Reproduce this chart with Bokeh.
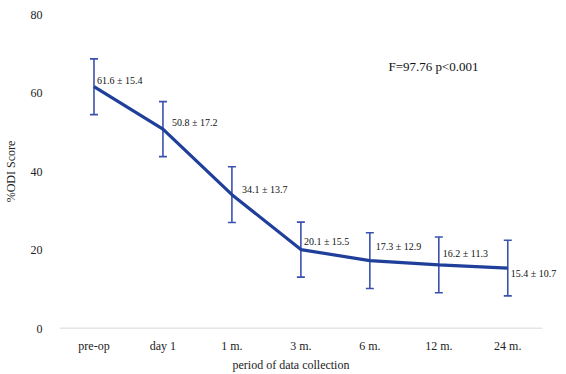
from bokeh.plotting import figure
from bokeh.models import ColumnDataSource, Whisker, TeeHead, Label, LabelSet, FixedTicker, Range1d, Title
from bokeh.embed import file_html
from bokeh.resources import INLINE

periods = ["pre-op", "day 1", "1 m.", "3 m.", "6 m.", "12 m.", "24 m."]
mean_odi = [61.6, 50.8, 34.1, 20.1, 17.3, 16.2, 15.4]
sd_odi = [15.4, 17.2, 13.7, 15.5, 12.9, 11.3, 10.7]
err_bar = [7.1, 7.0, 7.1, 7.0, 7.1, 7.1, 7.1]
stat_text = "F=97.76  p<0.001"
x_title = "period of data collection"
y_title = "%ODI Score"

# label placement (pixels, screen offsets; positive = up)
lab_dx = [3, 9, 10, 3, 6, 4, 3]
lab_dy = [6, 7, 5, 8, 14, 11, -5]

xs = list(range(len(periods)))
labels = [f"{m} \u00b1 {s}" for m, s in zip(mean_odi, sd_odi)]
src = ColumnDataSource(dict(
    x=xs, y=mean_odi,
    upper=[m + e for m, e in zip(mean_odi, err_bar)],
    lower=[m - e for m, e in zip(mean_odi, err_bar)],
    lab=labels, dx=lab_dx, dy=lab_dy,
))

FONT = "Liberation Serif"
X_LO, X_HI, X_VIEW = -0.5, len(periods) - 0.5, len(periods) - 0.25

p = figure(frame_width=500, frame_height=314, output_backend="svg", toolbar_location=None,
           x_range=Range1d(X_LO, X_VIEW), y_range=Range1d(0, 80),
           min_border_left=57, min_border_top=14, min_border_right=0, min_border_bottom=10)
p.outline_line_color = None
p.xgrid.grid_line_color = None
p.ygrid.grid_line_color = None

# baseline (x axis line) across the category band
p.segment(x0=[X_LO], x1=[X_HI], y0=[0], y1=[0], line_color="#cccccc", line_width=1.5)

p.line("x", "y", source=src, line_color="#1f3f9a", line_width=3.2)
wh = Whisker(base="x", upper="upper", lower="lower", source=src,
             line_color="#3a52ae", line_width=1.6,
             upper_head=TeeHead(size=8, line_color="#3a52ae", line_width=1.6),
             lower_head=TeeHead(size=8, line_color="#3a52ae", line_width=1.6))
p.add_layout(wh)

ls = LabelSet(x="x", y="y", text="lab", source=src, x_offset="dx", y_offset="dy",
              text_font=FONT, text_font_size="10px", text_color="#111111",
              text_baseline="middle", text_align="left")
p.add_layout(ls)

p.add_layout(Label(x=4.27, y=66.7, text=stat_text, text_font=FONT,
                   text_font_size="13px", text_color="#111111", text_baseline="middle"))

p.xaxis.ticker = FixedTicker(ticks=xs)
p.xaxis.major_label_overrides = {i: n for i, n in enumerate(periods)}
p.xaxis.axis_line_color = None
p.xaxis.major_tick_line_color = None
p.xaxis.minor_tick_line_color = None
p.xaxis.major_label_standoff = 4

p.add_layout(Title(text=x_title, align="left", offset=173, text_font=FONT,
                   text_font_size="12px", text_font_style="normal",
                   text_color="#222222", standoff=1), "below")

p.yaxis.ticker = FixedTicker(ticks=[0, 20, 40, 60, 80])
p.yaxis.axis_line_color = None
p.yaxis.major_tick_line_color = None
p.yaxis.minor_tick_line_color = None
p.yaxis.major_label_standoff = 11
p.yaxis.axis_label = y_title
p.yaxis.axis_label_standoff = 10

for ax in (p.xaxis[0], p.yaxis[0]):
    ax.major_label_text_font = FONT
    ax.major_label_text_font_size = "12px"
    ax.major_label_text_color = "#222222"
    ax.axis_label_text_font = FONT
    ax.axis_label_text_font_size = "12px"
    ax.axis_label_text_font_style = "normal"
    ax.axis_label_text_color = "#222222"

open("out.html", "w").write(file_html(p, INLINE))
